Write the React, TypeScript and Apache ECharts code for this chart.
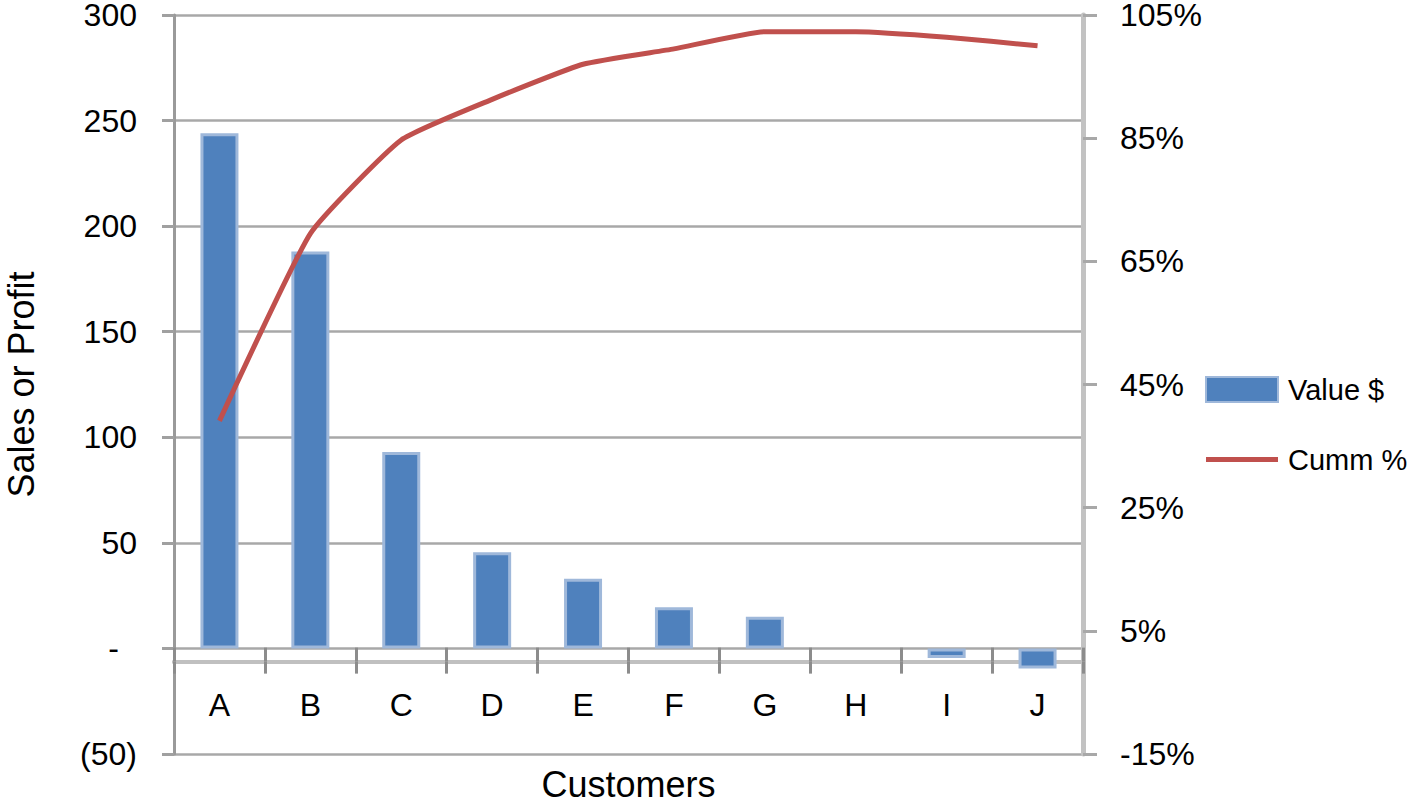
import React, { useEffect, useRef } from "react";
import * as echarts from "echarts";

const categories = ["A", "B", "C", "D", "E", "F", "G", "H", "I", "J"];
const values = [244, 188, 93, 45.5, 33, 19.5, 15, 0, -4.5, -9.5];
const cummPct = [39.1, 69.5, 84.7, 91.3, 97, 99.5, 102.3, 102.3, 101.4, 100];
const leftAxis = { min: -50, max: 300, interval: 50 };
const rightAxis = { min: -15, max: 105, interval: 20 };
const seriesNames = ["Value $", "Cumm %"];
const axisTitles = { x: "Customers", y: "Sales or Profit" };

const FONT = "Liberation Sans";

export default function App() {
  const ref = useRef<HTMLDivElement>(null);
  useEffect(() => {
    if (!ref.current) return;
    const chart = echarts.init(ref.current, undefined, { renderer: "svg" });
    const option: any = {
      animation: false,
      textStyle: { fontFamily: FONT, color: "#000" },
      grid: {
        left: 174,
        top: 15,
        right: 328,
        bottom: 49,
        containLabel: false,
        outerBoundsMode: "none",
      },
      legend: {
        orient: "vertical",
        left: 1200,
        top: 370,
        itemWidth: 72,
        itemHeight: 25,
        itemGap: 41,
        textStyle: { fontSize: 29, color: "#000", fontFamily: FONT, padding: [0, 0, 0, 5] },
        data: [
          { name: seriesNames[0], icon: "rect" },
          { name: seriesNames[1], icon: "path://M0,0L72,0L72,5L0,5Z" },
        ],
      },
      xAxis: [
        {
          type: "category",
          data: categories,
          position: "bottom",
          name: axisTitles.x,
          nameLocation: "middle",
          nameGap: 12,
          nameTextStyle: { fontSize: 36, color: "#000", fontFamily: FONT },
          axisLine: {
            show: true,
            onZero: true,
            onZeroAxisIndex: 1,
            lineStyle: { color: "#c0c0c0", width: 4 },
          },
          axisTick: { show: true, inside: false, length: 12, lineStyle: { color: "#8c8c8c", width: 3 } },
          axisLabel: { fontSize: 32, color: "#000", fontFamily: FONT, margin: -65 },
          splitLine: { show: false },
        },
        {
          type: "category",
          data: categories,
          position: "top",
          axisLine: {
            show: true,
            onZero: true,
            onZeroAxisIndex: 1,
            lineStyle: { color: "#c0c0c0", width: 4 },
          },
          axisTick: { show: true, inside: false, length: 14, lineStyle: { color: "#8c8c8c", width: 3 } },
          axisLabel: { show: false },
          splitLine: { show: false },
        },
      ],
      yAxis: [
        {
          type: "value",
          position: "left",
          min: leftAxis.min,
          max: leftAxis.max,
          interval: leftAxis.interval,
          name: axisTitles.y,
          nameLocation: "middle",
          nameGap: 135,
          nameRotate: 90,
          nameTextStyle: { fontSize: 36, color: "#000", fontFamily: FONT },
          axisLine: { show: true, onZero: false, lineStyle: { color: "#9a9a9a", width: 3 } },
          axisTick: { show: true, inside: false, length: 12, lineStyle: { color: "#a0a0a0", width: 3 } },
          axisLabel: {
            fontSize: 32,
            lineHeight: 26,
            color: "#000",
            fontFamily: FONT,
            margin: 37,
            formatter: (v: number) => {
              if (v === 0) return "{z|-}";
              if (v < 0) return "(" + Math.abs(v) + ")";
              return String(v);
            },
            rich: {
              z: { fontSize: 32, lineHeight: 26, color: "#000", fontFamily: FONT, padding: [0, 18, 0, 0] },
            },
          },
          splitLine: { show: true, lineStyle: { color: "#a8a8a8", width: 2.5 } },
        },
        {
          type: "value",
          position: "right",
          min: rightAxis.min,
          max: rightAxis.max,
          interval: rightAxis.interval,
          axisLine: { show: true, onZero: false, lineStyle: { color: "#c2c2c2", width: 5 } },
          axisTick: { show: true, inside: false, length: 14, lineStyle: { color: "#a8a8a8", width: 3 } },
          axisLabel: {
            fontSize: 32,
            lineHeight: 26,
            color: "#000",
            fontFamily: FONT,
            margin: 37,
            formatter: (v: number) => Math.round(v) + "%",
          },
          splitLine: { show: false },
        },
      ],
      series: [
        {
          name: seriesNames[0],
          type: "bar",
          xAxisIndex: 0,
          yAxisIndex: 0,
          barWidth: 38,
          data: values.map((v) => (v === 0 ? { value: v, itemStyle: { borderWidth: 0 } } : v)),
          itemStyle: { color: "#4f81bd", borderColor: "#9fb8da", borderWidth: 3 },
        },
        {
          name: seriesNames[1],
          type: "line",
          xAxisIndex: 0,
          yAxisIndex: 1,
          data: cummPct,
          smooth: 0.15,
          symbol: "none",
          showSymbol: false,
          lineStyle: { color: "#c0504d", width: 5 },
          itemStyle: { color: "#c0504d" },
          z: 5,
        },
      ],
    };
    chart.setOption(option);
    return () => chart.dispose();
  }, []);
  return (
    <div
      ref={ref}
      style={{ position: "fixed", left: 0, top: 0, width: 1411, height: 803, background: "#fff" }}
    />
  );
}
